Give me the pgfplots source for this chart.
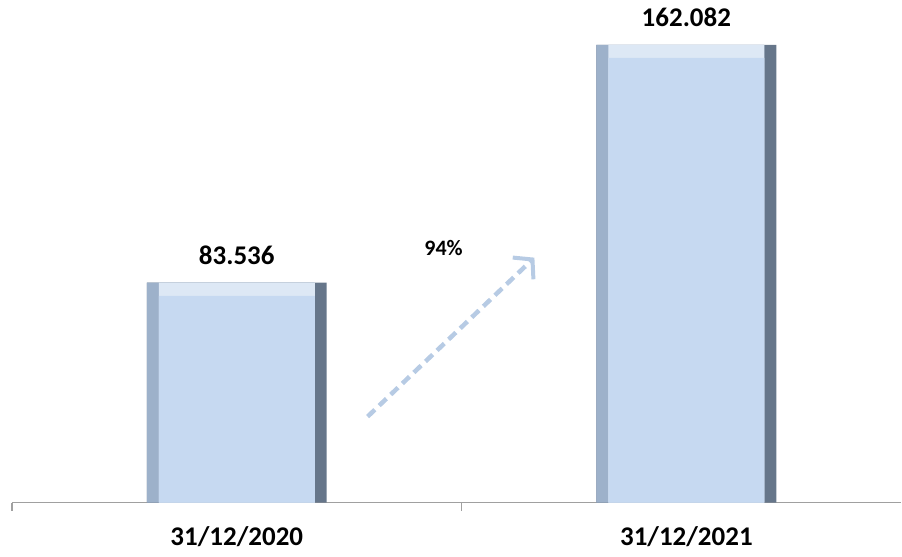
\documentclass[border=0pt]{standalone}
\usepackage{fontspec}
\setmainfont{Carlito}
\usepackage{pgfplots}
\pgfplotsset{compat=1.18}
\usetikzlibrary{arrows.meta}
\definecolor{face}{HTML}{C6D9F1}
\definecolor{topbev}{HTML}{DDE8F5}
\definecolor{sideL}{HTML}{9DB1CA}
\definecolor{sideR}{HTML}{66768A}
\definecolor{axisgray}{HTML}{A0A0A0}
\definecolor{arrowblue}{HTML}{B7CBE4}
\begin{document}
\begin{tikzpicture}
\begin{axis}[
  scale only axis, width=890pt, height=503pt,
  xmin=-0.5, xmax=1.478, ymin=10.9, ymax=176.9,
  axis x line*=bottom, axis y line=none,
  axis line style={draw=axisgray, line width=1.5pt},
  xtick={0,1}, xticklabels={31/12/2020,31/12/2021},
  major tick length=0pt,
  extra x ticks={-0.5,0.5}, extra x tick labels={},
  extra x tick style={major tick length=8pt, tick align=outside, tick style={draw=axisgray, line width=1.5pt}},
  xticklabel style={font=\bfseries\fontsize{27}{30}\selectfont, anchor=base, yshift=-43pt},
  ybar, bar shift=0pt,
  nodes near coords style={font=\bfseries\fontsize{27}{30}\selectfont, anchor=base, yshift=18pt, text=black},
]
% right (dark) side
\addplot[draw=none, fill=sideR, bar width=0.4, bar shift=0pt,
  nodes near coords, point meta=explicit symbolic]
  coordinates {(0,83.536) [83.536] (1,162.082) [162.082]};
% left side
\addplot[draw=none, fill=sideL, bar width=0.373, bar shift=-0.0135]
  coordinates {(0,83.536) (1,162.082)};
% top bevel
\addplot[draw=none, fill=topbev, bar width=0.347, bar shift=0pt]
  coordinates {(0,83.536) (1,162.082)};
% face
\addplot[draw=none, fill=face, bar width=0.347, bar shift=0pt]
  coordinates {(0,79.2) (1,157.8)};
\draw[arrowblue, line width=4.5pt, dash pattern=on 10pt off 6pt,
  -{Straight Barb[length=13pt,width=30pt,line width=4pt]}]
  (axis cs:0.291,39.3) -- (axis cs:0.662,91.8);
\node[font=\bfseries\fontsize{22}{24}\selectfont, anchor=base] at (axis cs:0.46,92.4) {94\%};
\coordinate (bl) at (rel axis cs:-0.01348,-0.0954);
\end{axis}
\path (bl) rectangle (current axis.north east);
\end{tikzpicture}
\end{document}
